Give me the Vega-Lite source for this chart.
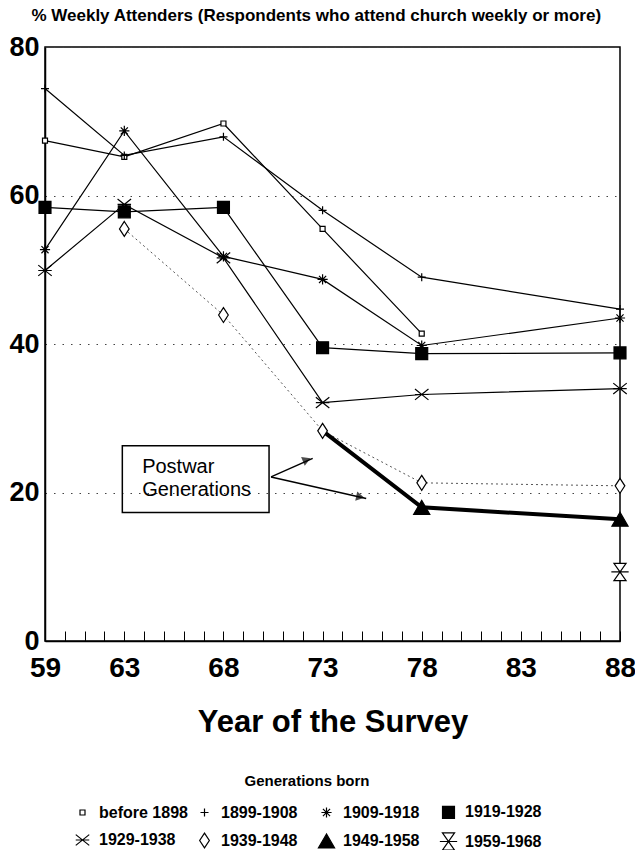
{
  "$schema": "https://vega.github.io/schema/vega-lite/v6.json",
  "width": 575,
  "height": 594,
  "autosize": {"type": "none"},
  "padding": {"left": 45, "top": 47, "right": 15, "bottom": 209},
  "background": "white",
  "title": {
    "text": "% Weekly Attenders (Respondents who attend church weekly or more)",
    "anchor": "middle",
    "frame": "bounds",
    "fontSize": 17,
    "font": "Liberation Sans",
    "fontWeight": "bold",
    "color": "black",
    "offset": 8,
    "dx": -6
  },
  "config": {
    "view": {"stroke": "black", "strokeWidth": 1.5},
    "font": "Liberation Sans",
    "legend": {
      "orient": "none",
      "legendX": 28,
      "legendY": 727,
      "columns": 4,
      "direction": "horizontal",
      "gridAlign": "all",
      "columnPadding": 5,
      "rowPadding": 7,
      "titleAnchor": "middle",
      "titleFont": "Liberation Sans",
      "titleFontSize": 15,
      "titleFontWeight": "bold",
      "titleColor": "black",
      "titlePadding": 13,
      "labelFont": "Liberation Sans",
      "labelFontSize": 16,
      "labelFontWeight": "bold",
      "labelColor": "black",
      "labelOffset": 7,
      "labelLimit": 200,
      "symbolStrokeColor": "black",
      "symbolStrokeWidth": 1.2
    }
  },
  "resolve": {"axis": {"x": "independent"}},
  "datasets": {
    "gen": [
      {"series": "before 1898", "year": 59, "pct": 67.4},
      {"series": "before 1898", "year": 63, "pct": 65.2},
      {"series": "before 1898", "year": 68, "pct": 69.7},
      {"series": "before 1898", "year": 73, "pct": 55.5},
      {"series": "before 1898", "year": 78, "pct": 41.4},
      {"series": "1899-1908", "year": 59, "pct": 74.4},
      {"series": "1899-1908", "year": 63, "pct": 65.4},
      {"series": "1899-1908", "year": 68, "pct": 67.9},
      {"series": "1899-1908", "year": 73, "pct": 58.0},
      {"series": "1899-1908", "year": 78, "pct": 49.0},
      {"series": "1899-1908", "year": 88, "pct": 44.7},
      {"series": "1909-1918", "year": 59, "pct": 52.7},
      {"series": "1909-1918", "year": 63, "pct": 68.7},
      {"series": "1909-1918", "year": 68, "pct": 51.8},
      {"series": "1909-1918", "year": 73, "pct": 48.7},
      {"series": "1909-1918", "year": 78, "pct": 39.8},
      {"series": "1909-1918", "year": 88, "pct": 43.5},
      {"series": "1919-1928", "year": 59, "pct": 58.4},
      {"series": "1919-1928", "year": 63, "pct": 57.8},
      {"series": "1919-1928", "year": 68, "pct": 58.4},
      {"series": "1919-1928", "year": 73, "pct": 39.5},
      {"series": "1919-1928", "year": 78, "pct": 38.7},
      {"series": "1919-1928", "year": 88, "pct": 38.8},
      {"series": "1929-1938", "year": 59, "pct": 49.9},
      {"series": "1929-1938", "year": 63, "pct": 58.8},
      {"series": "1929-1938", "year": 68, "pct": 51.6},
      {"series": "1929-1938", "year": 73, "pct": 32.1},
      {"series": "1929-1938", "year": 78, "pct": 33.2},
      {"series": "1929-1938", "year": 88, "pct": 34.0},
      {"series": "1939-1948", "year": 63, "pct": 55.5},
      {"series": "1939-1948", "year": 68, "pct": 43.9},
      {"series": "1939-1948", "year": 73, "pct": 28.3},
      {"series": "1939-1948", "year": 78, "pct": 21.3},
      {"series": "1939-1948", "year": 88, "pct": 20.9},
      {"series": "1949-1958", "year": 73, "pct": 28.3},
      {"series": "1949-1958", "year": 78, "pct": 18.0},
      {"series": "1949-1958", "year": 88, "pct": 16.4},
      {"series": "1959-1968", "year": 88, "pct": 9.3}
    ],
    "box": [{"x1": 62.9, "x2": 70.3, "y1": 26.3, "y2": 17.3}],
    "labels": [
      {"x": 63.9, "y": 22.6, "text": "Postwar"},
      {"x": 63.9, "y": 19.5, "text": "Generations"}
    ],
    "arrows": [
      {"x1": 70.4, "y1": 22.1, "x2": 72.5, "y2": 24.6},
      {"x1": 70.4, "y1": 22.1, "x2": 75.2, "y2": 19.2}
    ],
    "head1": [{"x": 72.2, "y": 24.4}],
    "head2": [{"x": 74.9, "y": 19.4}]
  },
  "layer": [
    {
      "data": {"name": "gen"},
      "transform": [{"filter": "datum.series != '1939-1948' && datum.series != '1949-1958' && datum.series != '1959-1968'"}],
      "mark": {"type": "line", "color": "black", "strokeWidth": 1.2},
      "encoding": {
        "x": {
          "field": "year", "type": "quantitative",
          "scale": {"domain": [59, 88], "nice": false, "zero": false},
          "axis": {
            "orient": "bottom",
            "title": null,
            "values": [59,60,61,62,63,64,65,66,67,68,69,70,71,72,73,74,75,76,77,78,79,80,81,82,83,84,85,86,87,88],
            "labels": false,
            "tickSize": -10,
            "tickColor": "black",
            "tickWidth": 1,
            "domainColor": "black",
            "domainWidth": 1.5,
            "grid": false
          }
        },
        "y": {
          "field": "pct", "type": "quantitative",
          "scale": {"domain": [0, 80], "nice": false},
          "axis": {
            "title": null,
            "values": [0, 20, 40, 60, 80],
            "labelFont": "Liberation Sans",
            "labelFontSize": 27,
            "labelFontWeight": "bold",
            "labelColor": "black",
            "labelPadding": 6,
            "ticks": false,
            "domainColor": "black",
            "domainWidth": 1.5,
            "grid": true,
            "gridColor": "#444",
            "gridDash": [1.5, 7],
            "gridWidth": 1.2
          }
        },
        "detail": {"field": "series"}
      }
    },
    {
      "data": {"name": "gen"},
      "transform": [{"filter": "datum.series == '1939-1948'"}],
      "mark": {"type": "line", "color": "#555", "strokeWidth": 1, "strokeDash": [2, 3]},
      "encoding": {
        "x": {
          "field": "year", "type": "quantitative",
          "axis": {
            "orient": "bottom",
            "title": "Year of the Survey",
            "titleFont": "Liberation Sans",
            "titleFontSize": 31,
            "titleFontWeight": "bold",
            "titleColor": "black",
            "titlePadding": 25,
            "values": [59, 63, 68, 73, 78, 83, 88],
            "labelFont": "Liberation Sans",
            "labelFontSize": 28,
            "labelFontWeight": "bold",
            "labelColor": "black",
            "labelPadding": 13,
            "labelFlush": false,
            "labelOverlap": false,
            "ticks": false,
            "domain": false,
            "grid": false
          }
        },
        "y": {"field": "pct", "type": "quantitative"}
      }
    },
    {
      "data": {"name": "gen"},
      "transform": [{"filter": "datum.series == '1949-1958'"}],
      "mark": {"type": "line", "color": "black", "strokeWidth": 4},
      "encoding": {
        "x": {"field": "year", "type": "quantitative", "axis": null},
        "y": {"field": "pct", "type": "quantitative"}
      }
    },
    {
      "data": {"name": "box"},
      "mark": {"type": "rect", "fill": null, "fillOpacity": 0, "stroke": "black", "strokeWidth": 1.5},
      "encoding": {
        "x": {"field": "x1", "type": "quantitative", "axis": null},
        "x2": {"field": "x2"},
        "y": {"field": "y1", "type": "quantitative"},
        "y2": {"field": "y2"}
      }
    },
    {
      "data": {"name": "labels"},
      "mark": {"type": "text", "align": "left", "baseline": "alphabetic", "font": "Liberation Sans", "fontSize": 20, "color": "black"},
      "encoding": {
        "x": {"field": "x", "type": "quantitative", "axis": null},
        "y": {"field": "y", "type": "quantitative"},
        "text": {"field": "text"}
      }
    },
    {
      "data": {"name": "arrows"},
      "mark": {"type": "rule", "color": "black", "strokeWidth": 1.5},
      "encoding": {
        "x": {"field": "x1", "type": "quantitative", "axis": null},
        "y": {"field": "y1", "type": "quantitative"},
        "x2": {"field": "x2"},
        "y2": {"field": "y2"}
      }
    },
    {
      "data": {"name": "head1"},
      "mark": {"type": "point", "shape": "triangle-up", "filled": true, "color": "black", "size": 90, "angle": 67.5},
      "encoding": {
        "x": {"field": "x", "type": "quantitative", "axis": null},
        "y": {"field": "y", "type": "quantitative"}
      }
    },
    {
      "data": {"name": "head2"},
      "mark": {"type": "point", "shape": "triangle-up", "filled": true, "color": "black", "size": 90, "angle": 102.3},
      "encoding": {
        "x": {"field": "x", "type": "quantitative", "axis": null},
        "y": {"field": "y", "type": "quantitative"}
      }
    },
    {
      "data": {"name": "gen"},
      "transform": [{"filter": "!(datum.series == '1949-1958' && datum.year == 73)"}],
      "mark": {"type": "point", "strokeWidth": 1.2, "opacity": 1, "fillOpacity": 1},
      "encoding": {
        "x": {"field": "year", "type": "quantitative", "axis": null},
        "y": {"field": "pct", "type": "quantitative"},
        "shape": {
          "field": "series", "type": "nominal",
          "title": "Generations born",
          "scale": {
            "domain": ["before 1898", "1899-1908", "1909-1918", "1919-1928", "1929-1938", "1939-1948", "1949-1958", "1959-1968"],
            "range": [
              "square",
              "M-1,0H1M0,-1V1",
              "M-1,0H1M0,-1V1M-0.7,-0.7L0.7,0.7M-0.7,0.7L0.7,-0.7",
              "square",
              "M-1,-0.8L1,0.8M-1,0.8L1,-0.8M-1,0H1",
              "M0,-1L0.65,0L0,1L-0.65,0Z",
              "triangle-up",
              "M-0.7,-1H0.7L-0.7,1H0.7ZM-1,0H1"
            ]
          }
        },
        "fill": {
          "field": "series", "type": "nominal",
          "title": "Generations born",
          "scale": {
            "domain": ["before 1898", "1899-1908", "1909-1918", "1919-1928", "1929-1938", "1939-1948", "1949-1958", "1959-1968"],
            "range": ["white", "black", "black", "black", "black", "white", "black", "white"]
          }
        },
        "stroke": {
          "field": "series", "type": "nominal",
          "title": "Generations born",
          "scale": {
            "domain": ["before 1898", "1899-1908", "1909-1918", "1919-1928", "1929-1938", "1939-1948", "1949-1958", "1959-1968"],
            "range": ["black", "black", "black", "black", "black", "black", "black", "black"]
          }
        },
        "size": {
          "field": "series", "type": "nominal",
          "title": "Generations born",
          "scale": {
            "domain": ["before 1898", "1899-1908", "1909-1918", "1919-1928", "1929-1938", "1939-1948", "1949-1958", "1959-1968"],
            "range": [25, 300, 300, 55, 230, 200, 160, 180]
          }
        }
      }
    }
  ]
}
